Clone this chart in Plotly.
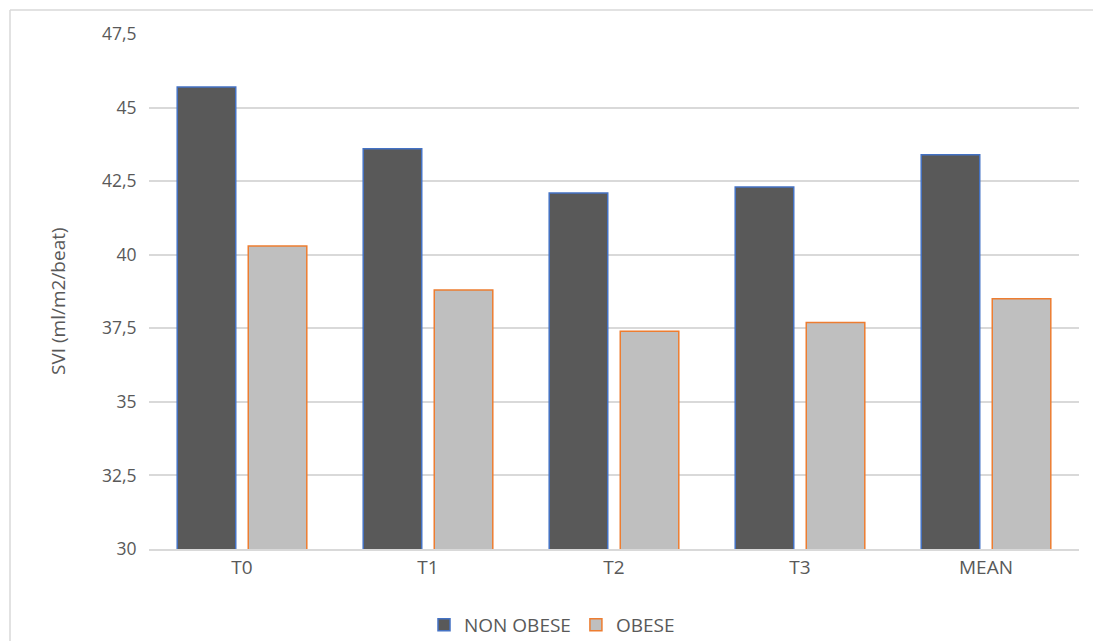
import plotly.graph_objects as go

categories = ["T0", "T1", "T2", "T3", "MEAN"]
non_obese = [45.7, 43.6, 42.1, 42.3, 43.4]
obese = [40.3, 38.8, 37.4, 37.7, 38.5]
y_ticks = [30, 32.5, 35, 37.5, 40, 42.5, 45, 47.5]
y_labels = ["30", "32,5", "35", "37,5", "40", "42,5", "45", "47,5"]
y_title = "SVI (ml/m2/beat)"

W, H = 1093, 641
PLOT_LEFT, PLOT_RIGHT, PLOT_TOP, PLOT_BOTTOM = 149, 1079, 34, 549
L, R, T, B = PLOT_LEFT, W - PLOT_RIGHT, PLOT_TOP, H - PLOT_BOTTOM
pw, ph = PLOT_RIGHT - PLOT_LEFT, PLOT_BOTTOM - PLOT_TOP

def px2x(p):
    return (p - PLOT_LEFT) / pw

def px2y(p):
    return (PLOT_BOTTOM - p) / ph

text_color = "#595959"
font_family = "Open Sans, Liberation Sans, sans-serif"

fig = go.Figure()
fig.add_trace(go.Bar(
    x=categories, y=non_obese, name="NON OBESE",
    marker=dict(color="#595959", line=dict(color="#4472C4", width=1.5)),
))
fig.add_trace(go.Bar(
    x=categories, y=obese, name="OBESE",
    marker=dict(color="#BFBFBF", line=dict(color="#ED7D31", width=1.5)),
))

fig.update_layout(
    width=W, height=H,
    margin=dict(l=L, r=R, t=T, b=B, pad=0, autoexpand=False),
    paper_bgcolor="white", plot_bgcolor="white",
    barmode="group", bargap=0.236, bargroupgap=0.176,
    font=dict(family=font_family, color=text_color, size=18),
    showlegend=True,
    legend=dict(orientation="h", xref="container", yref="container",
                x=552 / W, xanchor="center",
                y=(H - 625) / H, yanchor="middle",
                font=dict(size=19, color=text_color), itemclick=False),
    xaxis=dict(showgrid=False, showline=True, linecolor="#D9D9D9", linewidth=1.5,
               ticks="", automargin=False,
               tickfont=dict(size=19, color=text_color)),
    yaxis=dict(range=[30, 47.5], tickvals=y_ticks, ticktext=y_labels,
               showgrid=True, gridcolor="#D9D9D9", gridwidth=1.5,
               zeroline=False, showline=False, automargin=False,
               ticks="outside", ticklen=8, tickcolor="rgba(0,0,0,0)",
               tickfont=dict(size=17.5, color=text_color)),
    annotations=[
        dict(text=y_title, xref="paper", yref="paper",
             x=px2x(58), y=px2y(301), xanchor="center", yanchor="middle",
             textangle=-90, showarrow=False,
             font=dict(size=19, color=text_color)),
    ],
    shapes=[
        dict(type="line", xref="paper", yref="paper",
             x0=px2x(10), x1=px2x(1095), y0=px2y(10), y1=px2y(10),
             line=dict(color="#D9D9D9", width=1.5)),
        dict(type="line", xref="paper", yref="paper",
             x0=px2x(10), x1=px2x(10), y0=px2y(10), y1=px2y(660),
             line=dict(color="#D9D9D9", width=1.5)),
    ],
)

fig.write_html("out.html")
